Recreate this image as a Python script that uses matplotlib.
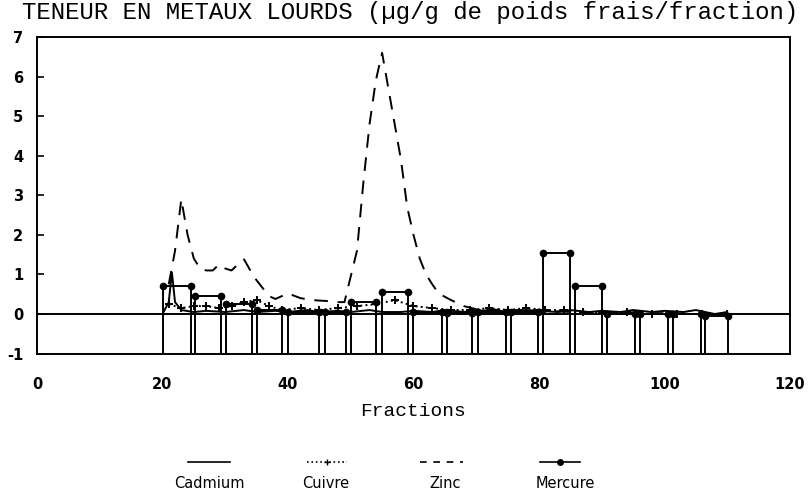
import matplotlib
matplotlib.use("Agg")
import matplotlib.pyplot as plt
from matplotlib.lines import Line2D

# ---- data ----
title = "TENEUR EN METAUX LOURDS (\u00b5g/g de poids frais/fraction)"
xlabel = "Fractions"
series_names = ["Cadmium", "Cuivre", "Zinc", "Mercure"]
x_ticks = [0, 20, 40, 60, 80, 100, 120]
y_ticks = [-1, 0, 1, 2, 3, 4, 5, 6, 7]
y_tick_labels = ["-1", "0", "1", "2", "3", "4", "5", "6", "7"]

zinc_x = [21, 22, 23, 24, 25, 26, 27, 28, 29, 30, 31, 32, 33, 34, 35, 36, 37, 38,
          40, 42, 44, 46, 48, 49, 50, 51, 52, 53, 54, 55, 56, 57, 58, 59, 60, 61,
          62, 63, 64, 66, 68, 70, 75, 80, 85, 90, 95, 100, 105, 110]
zinc_y = [0.75, 1.6, 2.9, 2.0, 1.4, 1.15, 1.1, 1.1, 1.25, 1.15, 1.1, 1.25, 1.38, 1.1,
          0.85, 0.65, 0.45, 0.38, 0.52, 0.4, 0.35, 0.33, 0.3, 0.3, 0.95, 1.6, 3.3,
          4.8, 5.9, 6.6, 5.7, 4.8, 3.9, 2.7, 2.0, 1.4, 1.0, 0.75, 0.52, 0.35, 0.2,
          0.12, 0.1, 0.1, 0.05, 0.05, 0.03, 0.02, 0.0, 0.0]

cad_x = [20, 21, 21.5, 22, 23, 25, 27, 30, 33, 35, 38, 40, 43, 45, 48, 50, 53, 55, 58,
         60, 63, 65, 68, 70, 73, 75, 78, 80, 83, 85, 88, 90, 93, 95, 98, 100, 103,
         105, 108, 110]
cad_y = [0.0, 0.3, 1.05, 0.3, 0.1, 0.05, 0.08, 0.05, 0.1, 0.05, 0.08, 0.05, 0.1, 0.05,
         0.08, 0.05, 0.1, 0.05, 0.05, 0.08, 0.05, 0.1, 0.05, 0.08, 0.1, 0.05, 0.1,
         0.08, 0.05, 0.1, 0.05, 0.08, 0.05, 0.1, 0.05, 0.08, 0.05, 0.1, 0.0, 0.05]

cu_x = [21, 23, 25, 27, 29, 31, 33, 35, 37, 39, 42, 45, 48, 51, 54, 57, 60, 63, 66,
        69, 72, 75, 78, 81, 84, 87, 90, 94, 98, 102, 106, 110]
cu_y = [0.25, 0.15, 0.2, 0.2, 0.15, 0.2, 0.3, 0.35, 0.2, 0.1, 0.15, 0.1, 0.15, 0.2,
        0.25, 0.35, 0.2, 0.15, 0.1, 0.1, 0.15, 0.1, 0.15, 0.1, 0.1, 0.05, 0.05, 0.05,
        0.0, 0.0, 0.0, 0.0]

# Mercure: pooled fractions (start, end, value)
hg_start = [20.1, 25.2, 30.2, 35.0, 40.0, 45.9, 50.0, 55.0, 60.0, 65.3, 70.3, 75.5,
            80.6, 85.7, 90.9, 96.1, 101.4, 106.4]
hg_end = [24.5, 29.3, 34.2, 39.0, 45.0, 49.2, 54.1, 59.2, 64.5, 69.4, 74.7, 79.8,
          84.9, 90.0, 95.3, 100.6, 105.8, 110.2]
hg_val = [0.7, 0.45, 0.25, 0.1, 0.05, 0.05, 0.3, 0.55, 0.05, 0.03, 0.05, 0.05,
          1.55, 0.72, 0.0, 0.0, 0.0, -0.05]

# ---- figure ----
fig = plt.figure(figsize=(8.09, 4.95), dpi=100)
ax = fig.add_axes([0.0457, 0.2857, 0.9308, 0.6396])
ax.set_xlim(0, 120)
ax.set_ylim(-1, 7)

lw = 1.4
ax.axhline(0, color="black", lw=lw)

# Mercure bars
ax.vlines(hg_start, -1, hg_val, color="black", lw=lw)
ax.vlines(hg_end, -1, hg_val, color="black", lw=lw)
ax.hlines(hg_val, hg_start, hg_end, color="black", lw=lw)
ax.plot(hg_start, hg_val, "o", color="black", ms=4.5)
ax.plot(hg_end, hg_val, "o", color="black", ms=4.5)

ax.plot(cad_x, cad_y, "-", color="black", lw=lw)
ax.plot(cu_x, cu_y, ":", color="black", lw=lw, marker="+", ms=6, mew=1.4)
ax.plot(zinc_x, zinc_y, color="black", lw=lw, dashes=(7, 5))

for s in ax.spines.values():
    s.set_linewidth(1.4)

ax.set_xticks(x_ticks)
ax.set_yticks(y_ticks)
ax.set_yticklabels(y_tick_labels)
ax.tick_params(axis="x", length=0, pad=17)
ax.tick_params(axis="y", direction="in", length=5, width=1.2, pad=10)
for lab in ax.get_xticklabels() + ax.get_yticklabels():
    lab.set_fontfamily("DejaVu Sans")
    lab.set_fontweight("bold")
    lab.set_fontsize(10.5)

ax.set_xlabel(xlabel, fontfamily="Liberation Mono", fontsize=14, labelpad=8)
fig.text(0.027, 0.974, title, fontfamily="Liberation Mono", fontsize=17.3,
         ha="left", va="center")

# manual legend below
W, H = 809, 495
entries = [
    (series_names[0], 209, 188, 230, dict(ls="-")),
    (series_names[1], 326, 307, 347, dict(ls=":", marker="+", ms=5, markevery=[1])),
    (series_names[2], 445, 420, 463, dict(dashes=(4, 4))),
    (series_names[3], 565, 540, 580, dict(ls="-", marker="o", ms=4, markevery=[1])),
]
for name, cx, x0, x1, kw in entries:
    xs = [x0 / W, (x0 + x1) / 2 / W, x1 / W]
    ys = [1 - 462 / H] * 3
    fig.add_artist(Line2D(xs, ys, color="black", lw=1.2, transform=fig.transFigure, **kw))
    fig.text(cx / W, 1 - 484 / H, name, fontfamily="DejaVu Sans", fontsize=10.5,
             ha="center", va="center")

fig.savefig("out.png", dpi=100)
